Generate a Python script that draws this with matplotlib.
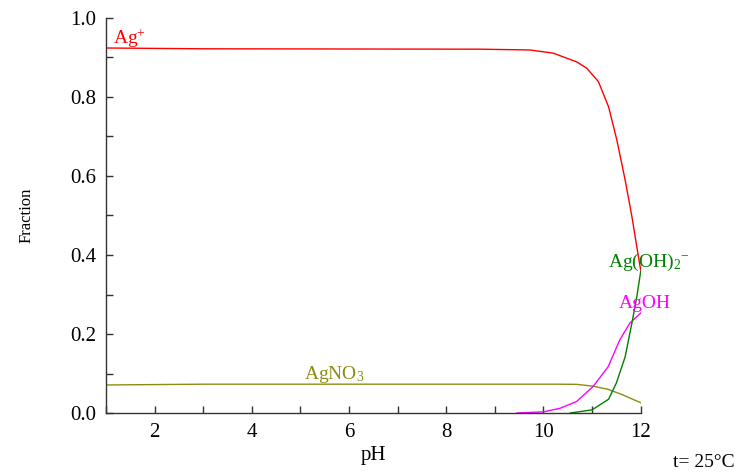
import matplotlib
matplotlib.use("Agg")
import matplotlib.pyplot as plt
from matplotlib.ticker import MultipleLocator

plt.rcParams["font.family"] = ["Liberation Serif", "DejaVu Serif"]
plt.rcParams["mathtext.fontset"] = "custom"
plt.rcParams["mathtext.rm"] = "Liberation Serif"
plt.rcParams["mathtext.it"] = "Liberation Serif:italic"

# species fractions vs pH
ph_agp = [1.0, 3.0, 8.7, 9.72, 10.2, 10.68, 10.89, 11.13, 11.34, 11.51, 11.68, 11.82, 11.92, 12.0]
ag_plus = [0.924, 0.922, 0.921, 0.919, 0.911, 0.889, 0.873, 0.839, 0.775, 0.691, 0.590, 0.497, 0.421, 0.362]

ph_no3 = [1.0, 3.0, 10.3, 10.68, 11.02, 11.33, 11.63, 12.0]
ag_no3 = [0.071, 0.073, 0.073, 0.0726, 0.068, 0.060, 0.046, 0.026]

ph_agoh = [9.45, 10.0, 10.34, 10.68, 11.02, 11.33, 11.57, 11.78, 12.0]
ag_oh = [0.0, 0.003, 0.012, 0.029, 0.067, 0.117, 0.185, 0.228, 0.253]

ph_agoh2 = [10.55, 11.0, 11.34, 11.5, 11.68, 11.82, 11.92, 12.0]
ag_oh2 = [0.0, 0.008, 0.035, 0.076, 0.142, 0.228, 0.294, 0.358]

fig = plt.figure(figsize=(7.37, 4.73), dpi=100)
ax = fig.add_axes([0.1438, 0.1268, 0.7255, 0.8352])

ax.plot(ph_agp, ag_plus, color="#ff0000", lw=1)
ax.plot(ph_no3, ag_no3, color="#8c8c10", lw=1)
ax.plot(ph_agoh, ag_oh, color="#ff00ff", lw=1)
ax.plot(ph_agoh2, ag_oh2, color="#008000", lw=1)

ax.set_xlim(1, 12)
ax.set_ylim(0, 1.0)
ax.xaxis.set_major_locator(MultipleLocator(2))
ax.xaxis.set_minor_locator(MultipleLocator(1))
ax.yaxis.set_major_locator(MultipleLocator(0.2))
ax.yaxis.set_minor_locator(MultipleLocator(0.1))
ax.yaxis.set_major_formatter(matplotlib.ticker.FormatStrFormatter("%.1f"))

for s in ["top", "right"]:
    ax.spines[s].set_visible(False)
for s in ["left", "bottom"]:
    ax.spines[s].set_color("#333333")
    ax.spines[s].set_linewidth(1)
ax.tick_params(which="both", direction="in", length=5, width=1, color="#333333",
               labelsize=15, pad=7)

ax.set_xlabel("pH", fontsize=15, labelpad=3)
ax.set_ylabel("Fraction", fontsize=12, labelpad=26)

# species labels
ax.text(1.15, 0.935, "Ag$^{+}$", color="#ff0000", fontsize=14)
ax.text(5.07, 0.087, "AgNO$_3$", color="#8c8c10", fontsize=14)
ax.text(11.33, 0.37, "Ag(OH)$_2$$^{-}$", color="#008000", fontsize=14)
ax.text(11.55, 0.265, "AgOH", color="#ff00ff", fontsize=14)

fig.text(0.997, 0.012, "t= 25°C", fontsize=14, ha="right")

fig.savefig("out.png", dpi=100)
